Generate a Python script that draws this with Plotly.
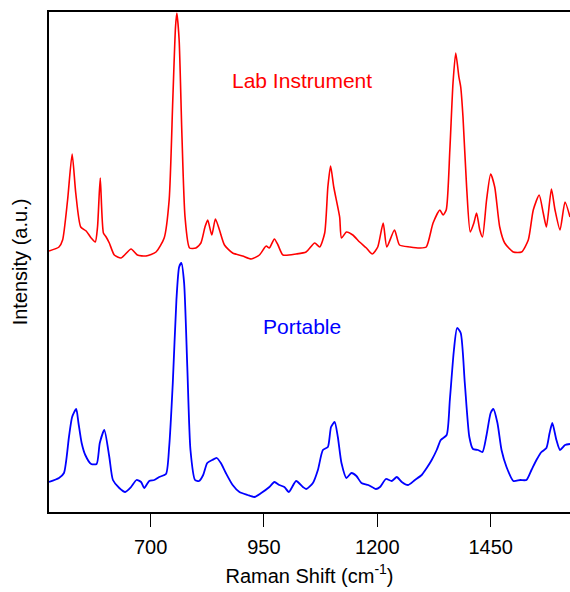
import plotly.graph_objects as go

# Raman shift (cm^-1) and intensity (arbitrary, offset as plotted)
lab_x = [476, 498, 506, 517, 527, 535, 546, 558, 569, 578, 583, 589, 596, 602, 609, 620, 635, 657, 671, 690,
         712, 730, 741, 749, 755, 758, 763, 769, 776, 786, 800, 811, 820, 826, 835, 843, 852, 863, 881, 903,
         922, 940, 955, 962, 973, 981, 992, 1021, 1043, 1062, 1073, 1084, 1091, 1097, 1104, 1117, 1121, 1132,
         1146, 1161, 1176, 1189, 1201, 1213, 1221, 1238, 1249, 1272, 1294, 1308, 1323, 1338, 1345, 1352, 1360,
         1367, 1373, 1380, 1384, 1389, 1397, 1405, 1413, 1419, 1426, 1432, 1441, 1450, 1459, 1470, 1481, 1500,
         1518, 1533, 1544, 1557, 1566, 1573, 1584, 1592, 1603, 1614, 1625]
lab_y = [261, 265, 272, 312, 358, 319, 285, 281, 274, 270, 285, 334, 279, 275, 269, 257, 254, 263, 257, 256,
         260, 274, 312, 412, 485, 499, 472, 379, 295, 264, 264, 269, 285, 292, 277, 293, 282, 267, 259, 256,
         253, 257, 266, 264, 273, 267, 257, 258, 260, 269, 265, 279, 325, 346, 325, 295, 274, 280,
         277, 270, 264, 258, 265, 289, 265, 282, 267, 265, 264, 265, 289, 302, 297, 302, 362,
         429, 459, 435, 425, 395, 325, 280, 289, 299, 282, 275, 312, 338, 325, 285, 269, 260,
         260, 272, 302, 317, 299, 285, 323, 302, 282, 310, 295]

port_x = [476, 498, 509, 520, 527, 536, 541, 548, 556, 569, 581, 588, 598, 609, 617, 631, 644, 657, 669, 679,
          686, 697, 708, 719, 734, 741, 749, 757, 763, 768, 774, 781, 788, 798, 807, 816, 825, 836, 846, 855,
          866, 881, 896, 914, 929, 944, 962, 973, 984, 995, 1005, 1021, 1036, 1043, 1058, 1069, 1080, 1091,
          1098, 1106, 1113, 1121, 1132, 1143, 1154, 1165, 1180, 1197, 1206, 1219, 1232, 1243, 1254, 1268,
          1283, 1298, 1309, 1320, 1331, 1340, 1353, 1360, 1369, 1376, 1384, 1393, 1403, 1411, 1422, 1432,
          1441, 1450, 1456, 1465, 1474, 1485, 1500, 1515, 1529, 1540, 1551, 1562, 1573, 1580, 1586, 1595,
          1603, 1614, 1625]
port_y = [30, 34, 39, 75, 95, 103, 89, 69, 57, 48, 48, 69, 82, 55, 32, 24, 20, 25, 32, 30,
          24, 31, 32, 35, 38, 65, 129, 212, 245, 249, 229, 145, 62, 32, 31, 37, 49, 52, 54, 49,
          39, 27, 20, 17, 15, 19, 25, 30, 27, 25, 20, 31, 25, 23, 29, 42, 62, 65,
          85, 90, 75, 49, 34, 39, 36, 29, 27, 23, 25, 33, 31, 35, 30, 27,
          32, 37, 44, 52, 62, 72, 77, 112, 162, 184, 179, 129, 75, 63, 62, 60,
          77, 99, 103, 89, 62, 45, 31, 32, 32, 42, 52, 60, 64, 79, 89, 72,
          62, 67, 68]

x_ticks = [700, 950, 1200, 1450]

FONT = "Arial, Liberation Sans, sans-serif"

fig = go.Figure()
fig.add_trace(go.Scatter(x=lab_x, y=lab_y, mode="lines", name="Lab Instrument",
                         line=dict(color="#ff0000", width=1.6, shape="spline", smoothing=0.6)))
fig.add_trace(go.Scatter(x=port_x, y=port_y, mode="lines", name="Portable",
                         line=dict(color="#0000ff", width=1.8, shape="spline", smoothing=0.6)))

fig.add_annotation(x=1035, y=432, text="Lab Instrument", showarrow=False,
                   font=dict(family=FONT, size=21, color="#ff0000"))
fig.add_annotation(x=1035, y=186, text="Portable", showarrow=False,
                   font=dict(family=FONT, size=21, color="#0000ff"))

fig.update_layout(
    width=570, height=592,
    margin=dict(l=49, r=0, t=12, b=80),
    paper_bgcolor="white", plot_bgcolor="white",
    showlegend=False,
    font=dict(family=FONT, color="#000000"),
    xaxis=dict(range=[476, 1625], tickvals=x_ticks, ticks="outside", ticklen=13, tickwidth=1.3,
               tickcolor="#000", showline=True, linecolor="#000", linewidth=1.5, mirror=True,
               showgrid=False, zeroline=False, tickfont=dict(size=20, family=FONT),
               ticklabelstandoff=3,
               title=dict(text="Raman Shift (cm<sup>-1</sup>)", font=dict(size=20, family=FONT), standoff=12)),
    yaxis=dict(range=[0, 500], showticklabels=False, ticks="", showline=True, linecolor="#000",
               linewidth=1.5, showgrid=False, zeroline=False,
               title=dict(text="Intensity (a.u.)", font=dict(size=20, family=FONT), standoff=14)),
)

fig.write_html("out.html")
